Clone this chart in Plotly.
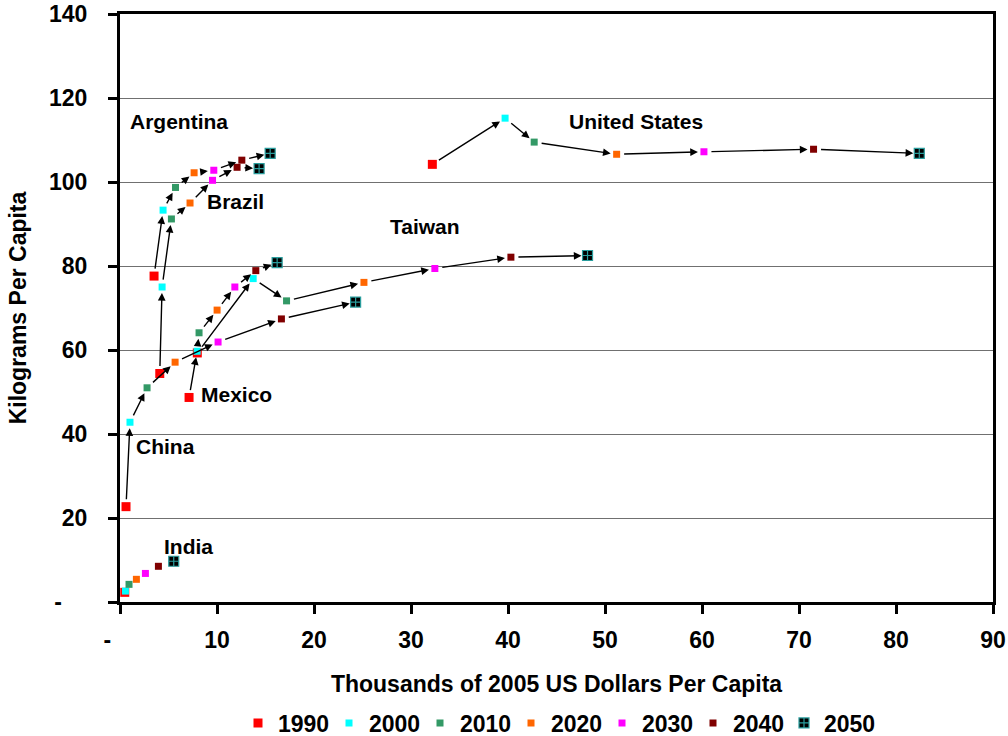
import plotly.graph_objects as go

years = ["1990", "2000", "2010", "2020", "2030", "2040", "2050"]
countries = ["Argentina", "Brazil", "Mexico", "China", "Taiwan", "United States", "India"]

# GDP per capita (thousands of 2005 US$), one value per year 1990..2050
argentina_x = [3.51, 4.44, 5.72, 7.64, 9.67, 12.56, 15.48]
argentina_y = [77.6, 93.3, 98.7, 102.2, 102.8, 105.2, 106.8]
brazil_x = [4.10, 4.34, 5.30, 7.22, 9.54, 12.07, 14.34]
brazil_y = [54.4, 75.0, 91.2, 95.0, 100.4, 103.5, 103.2]
mexico_x = [7.12, 7.95, 8.15, 10.01, 11.84, 14.0, 16.2]
mexico_y = [48.7, 59.7, 64.1, 69.5, 75.0, 78.9, 80.8]
china_x = [0.62, 1.03, 2.79, 5.68, 10.11, 16.64, 24.29]
china_y = [22.7, 42.8, 51.0, 57.1, 61.9, 67.4, 71.4]
taiwan_x = [7.97, 13.73, 17.17, 25.15, 32.46, 40.3, 48.2]
taiwan_y = [59.3, 77.0, 71.7, 76.1, 79.4, 82.1, 82.5]
us_x = [32.2, 39.7, 42.7, 51.2, 60.2, 71.5, 82.4]
us_y = [104.2, 115.2, 109.5, 106.6, 107.2, 107.8, 106.8]
india_x = [0.49, 0.56, 0.93, 1.69, 2.62, 3.96, 5.54]
india_y = [2.3, 2.6, 4.2, 5.4, 6.8, 8.5, 9.7]

series_x = [argentina_x, brazil_x, mexico_x, china_x, taiwan_x, us_x, india_x]
series_y = [argentina_y, brazil_y, mexico_y, china_y, taiwan_y, us_y, india_y]
with_arrows = [True, True, True, True, True, True, False]

x_tickvals = [0, 10, 20, 30, 40, 50, 60, 70, 80, 90]
y_tickvals = [0, 20, 40, 60, 80, 100, 120, 140]
NB = "\u00a0"
x_ticktext = ["-" + NB * 4] + [str(v) for v in x_tickvals[1:]]
y_ticktext = ["-" + NB * 4] + [str(v) for v in y_tickvals[1:]]

year_colors = ["#FF0000", "#00FFFF", "#339966", "#FF6600", "#FF00FF", "#800000", "#000000"]
year_sizes = [9, 7, 7, 7, 7, 7, 10]

FONT = "Liberation Sans, Arial, sans-serif"

fig = go.Figure()
for i, yr in enumerate(years):
    xs = [sx[i] for sx in series_x]
    ys = [sy[i] for sy in series_y]
    if yr == "2050":
        marker = dict(symbol="square-cross", size=year_sizes[i], color="#000000",
                      line=dict(color="#2a9d9d", width=1.2))
    else:
        marker = dict(symbol="square", size=year_sizes[i], color=year_colors[i],
                      line=dict(width=0))
    fig.add_trace(go.Scatter(x=xs, y=ys, mode="markers", name=yr, marker=marker,
                             cliponaxis=False, hoverinfo="skip"))

annotations = []
for sx, sy, arr in zip(series_x, series_y, with_arrows):
    if not arr:
        continue
    for j in range(len(sx) - 1):
        annotations.append(dict(
            x=sx[j + 1], y=sy[j + 1], ax=sx[j], ay=sy[j],
            xref="x", yref="y", axref="x", ayref="y",
            text="", showarrow=True, arrowhead=2, arrowsize=1.1,
            arrowwidth=1.4, arrowcolor="#000000", standoff=6, startstandoff=6))

label_pos = {
    "Argentina": (0.8, 114.3),
    "Brazil": (8.74, 95.3),
    "Mexico": (8.12, 49.4),
    "China": (1.44, 37.1),
    "Taiwan": (27.6, 89.5),
    "United States": (46.1, 114.4),
    "India": (4.33, 13.1),
}
for c in countries:
    lx, ly = label_pos[c]
    annotations.append(dict(x=lx, y=ly, xref="x", yref="y", text=c, showarrow=False,
                            xanchor="left", yanchor="middle",
                            font=dict(family=FONT, size=21, color="#000000", weight="bold")))

fig.update_layout(
    width=1008, height=760,
    template="none",
    paper_bgcolor="white", plot_bgcolor="white",
    margin=dict(l=120, r=15, t=14, b=158, autoexpand=False),
    showlegend=True,
    legend=dict(orientation="h", x=0.5, xanchor="center", y=-0.2058, yanchor="middle",
                font=dict(family=FONT, size=23, color="#000000", weight="bold"),
                entrywidth=46, entrywidthmode="pixels", itemwidth=30,
                bgcolor="rgba(0,0,0,0)"),
    annotations=annotations,
    xaxis=dict(range=[0, 90], tickvals=x_tickvals, ticktext=x_ticktext,
               showgrid=False, zeroline=False, showline=True, linecolor="#000000", linewidth=3,
               mirror=True, ticklabeloverflow="allow",
               ticks="outside", ticklen=9, tickwidth=3, tickcolor="#000000",
               ticklabelstandoff=6,
               tickfont=dict(family=FONT, size=23, color="#000000", weight="bold"),
               title=dict(text="Thousands of 2005 US Dollars Per Capita", standoff=25,
                          font=dict(family=FONT, size=23, color="#000000", weight="bold"))),
    yaxis=dict(range=[0, 140], tickvals=y_tickvals, ticktext=y_ticktext,
               showgrid=True, gridcolor="#707070", gridwidth=1.3,
               zeroline=False, showline=True, linecolor="#000000", linewidth=3,
               mirror=True, ticklabeloverflow="allow",
               ticks="outside", ticklen=9, tickwidth=3, tickcolor="#000000",
               ticklabelstandoff=16,
               tickfont=dict(family=FONT, size=23, color="#000000", weight="bold"),
               title=dict(text="Kilograms Per Capita", standoff=16,
                          font=dict(family=FONT, size=23, color="#000000", weight="bold"))),
)

fig.write_html("out.html", config={"displayModeBar": False},
               post_script="document.body.style.margin='0';")
